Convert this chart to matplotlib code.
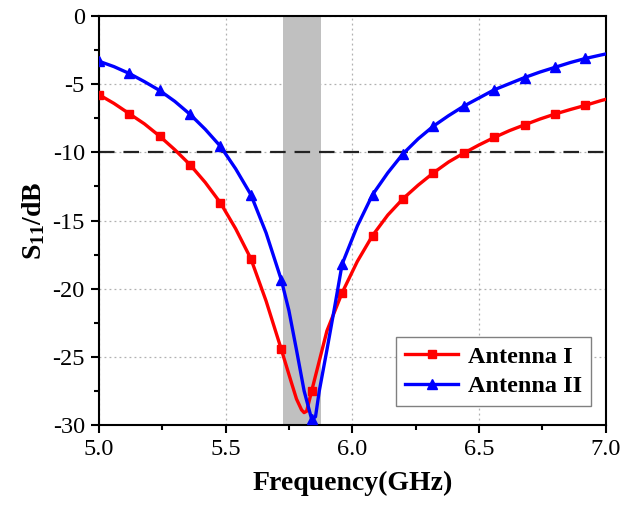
import matplotlib
matplotlib.use("Agg")
import matplotlib.pyplot as plt
import numpy as np
from matplotlib.ticker import MultipleLocator, FormatStrFormatter

plt.rcParams["font.family"] = ["Liberation Serif", "DejaVu Serif"]
plt.rcParams["mathtext.fontset"] = "custom"
plt.rcParams["mathtext.rm"] = "Liberation Serif"
plt.rcParams["mathtext.bf"] = "Liberation Serif:bold"
plt.rcParams["axes.unicode_minus"] = False

# Antenna I
freq_1 = [5.00, 5.06, 5.12, 5.18, 5.24, 5.30, 5.36, 5.42, 5.48, 5.54, 5.60, 5.66,
          5.72, 5.76, 5.78, 5.80, 5.81, 5.82, 5.84, 5.87, 5.90, 5.96, 6.02, 6.08,
          6.14, 6.20, 6.26, 6.32, 6.38, 6.44, 6.50, 6.56, 6.62, 6.68, 6.74, 6.80,
          6.86, 6.92, 6.98, 7.00]
s11_1 = [-5.75, -6.4, -7.15, -7.9, -8.8, -9.8, -10.9, -12.2, -13.7, -15.6, -17.8, -20.9,
         -24.45, -26.9, -28.1, -28.9, -29.1, -29.0, -27.5, -25.3, -23.1, -20.3, -18.0, -16.1,
         -14.6, -13.4, -12.4, -11.5, -10.7, -10.05, -9.45, -8.9, -8.4, -7.97, -7.55, -7.18,
         -6.85, -6.54, -6.2, -6.1]

# Antenna II
freq_2 = [5.00, 5.06, 5.12, 5.18, 5.24, 5.30, 5.36, 5.42, 5.48, 5.54, 5.60, 5.66,
          5.72, 5.75, 5.78, 5.81, 5.84, 5.855, 5.87, 5.90, 5.93, 5.96, 6.02, 6.08,
          6.14, 6.20, 6.26, 6.32, 6.38, 6.44, 6.50, 6.56, 6.62, 6.68, 6.74, 6.80,
          6.86, 6.92, 6.98, 7.00]
s11_2 = [-3.3, -3.7, -4.2, -4.8, -5.45, -6.25, -7.2, -8.3, -9.55, -11.2, -13.1, -15.9,
         -19.35, -21.6, -24.5, -27.5, -29.6, -29.4, -27.5, -24.5, -21.4, -18.2, -15.4, -13.1,
         -11.5, -10.1, -9.0, -8.07, -7.3, -6.6, -6.0, -5.4, -4.95, -4.5, -4.1, -3.75,
         -3.4, -3.1, -2.85, -2.77]

marker_freq = [5.00, 5.12, 5.24, 5.36, 5.48, 5.60, 5.72, 5.84, 5.96, 6.08,
               6.20, 6.32, 6.44, 6.56, 6.68, 6.80, 6.92]
band = (5.725, 5.875)
threshold = -10

fig = plt.figure(figsize=(6.33, 5.07), dpi=100)
ax = fig.add_axes([0.156, 0.162, 0.801, 0.806])

ax.axvspan(*band, color="#c0c0c0", zorder=1, lw=0)
ax.axhline(threshold, color="#222222", lw=1.6, ls=(0, (7, 4)), zorder=2)

mask_1 = np.isin(np.round(freq_1, 3), marker_freq)
mask_2 = np.isin(np.round(freq_2, 3), marker_freq)
ax.plot(freq_1, s11_1, color="#ff0000", lw=2.4, marker="s", ms=6,
        markevery=list(mask_1), label="Antenna I", zorder=3)
ax.plot(freq_2, s11_2, color="#0000ff", lw=2.4, marker="^", ms=7,
        markevery=list(mask_2), label="Antenna II", zorder=4)

ax.set_xlim(5.0, 7.0)
ax.set_ylim(-30, 0)
ax.xaxis.set_major_locator(MultipleLocator(0.5))
ax.xaxis.set_minor_locator(MultipleLocator(0.25))
ax.yaxis.set_major_locator(MultipleLocator(5))
ax.yaxis.set_minor_locator(MultipleLocator(2.5))
ax.xaxis.set_major_formatter(FormatStrFormatter("%.1f"))
ax.tick_params(which="major", direction="out", length=6, width=1.5,
               labelsize=17.5, pad=4)
ax.tick_params(which="minor", direction="out", length=3.5, width=1.5)
ax.tick_params(top=False, right=False)
ax.grid(True, which="major", color="#b0b0b0", ls=(0, (1.5, 2.5)), lw=0.9, zorder=0)
ax.set_axisbelow(True)
for sp in ax.spines.values():
    sp.set_linewidth(1.5)

ax.set_xlabel("Frequency(GHz)", fontsize=20, fontweight="bold", labelpad=8)
ax.set_ylabel(r"$\mathbf{S_{11}}$/dB", fontsize=20, fontweight="bold", labelpad=4)

leg = ax.legend(loc="lower right", bbox_to_anchor=(0.98, 0.035),
                prop={"size": 17.5, "weight": "bold"}, fancybox=False,
                edgecolor="#808080", framealpha=1, handlelength=2.2,
                borderpad=0.35, labelspacing=0.3, handletextpad=0.4,
                borderaxespad=0.2)
leg.get_frame().set_linewidth(1.0)

fig.savefig("out.png", dpi=100)
